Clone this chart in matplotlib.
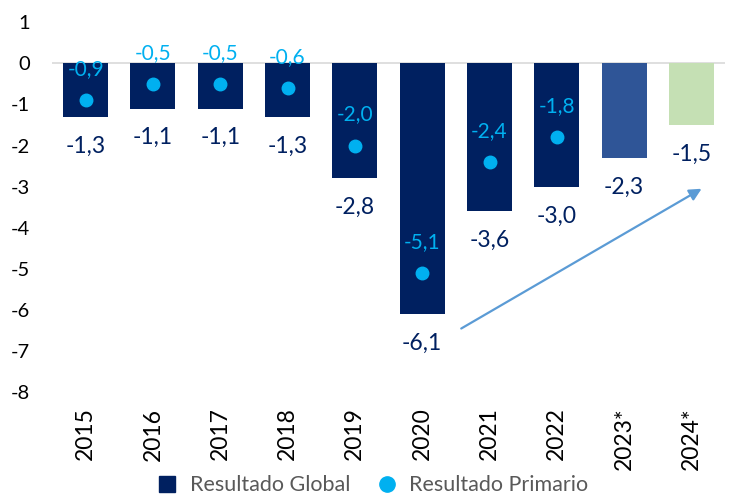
import matplotlib
matplotlib.use('Agg')
import matplotlib.pyplot as plt
from matplotlib.lines import Line2D

plt.rcParams['font.family'] = ['Lato', 'DejaVu Sans']

years = ['2015', '2016', '2017', '2018', '2019', '2020', '2021', '2022', '2023*', '2024*']
global_vals = [-1.3, -1.1, -1.1, -1.3, -2.8, -6.1, -3.6, -3.0, -2.3, -1.5]
primary_vals = [-0.9, -0.5, -0.5, -0.6, -2.0, -5.1, -2.4, -1.8]

navy = '#002060'
cyan = '#00B0F0'
bar_colors = [navy] * 8 + ['#2F5597', '#C5E0B4']

fig = plt.figure(figsize=(7.31, 4.94), dpi=100, facecolor='white')
ax = fig.add_axes([0.071, 0.206, 0.921, 0.749])

x = list(range(len(years)))
ax.bar(x, global_vals, width=0.67, color=bar_colors, zorder=2)
ax.axhline(0, color='#D9D9D9', linewidth=1.2, zorder=1)
ax.plot(x[:len(primary_vals)], primary_vals, 'o', color=cyan, markersize=9, zorder=3)

def fmt(v):
    return f'{v:.1f}'.replace('.', ',')

for xi, v in zip(x, global_vals):
    ax.annotate(fmt(v), (xi, v), xytext=(0, -21), textcoords='offset points',
                ha='center', va='center', fontsize=16.5, color=navy, zorder=4)
for xi, v in zip(x, primary_vals):
    ax.annotate(fmt(v), (xi, v), xytext=(0, 22.5), textcoords='offset points',
                ha='center', va='center', fontsize=15, color=cyan, zorder=4)

# flecha de tendencia
ax.annotate('', xy=(9.15, -3.05), xytext=(5.58, -6.45),
            arrowprops=dict(arrowstyle='-|>', color='#5B9BD5', lw=1.6,
                            mutation_scale=18, shrinkA=0, shrinkB=0))

ax.set_xlim(-0.5, 9.5)
ax.set_ylim(-8, 1)
ax.set_yticks(range(-8, 2))
ax.set_yticklabels([str(t) for t in range(-8, 2)], fontsize=14.5)
ax.set_xticks(x)
ax.set_xticklabels(years, rotation=90, fontsize=16.5)
ax.tick_params(axis='y', length=0, pad=16)
ax.tick_params(axis='x', length=0, pad=11)
for s in ax.spines.values():
    s.set_visible(False)

handles = [
    Line2D([], [], marker='s', linestyle='none', color=navy, markersize=12),
    Line2D([], [], marker='o', linestyle='none', color=cyan, markersize=11),
]
fig.legend(handles, ['Resultado Global', 'Resultado Primario'], loc='center',
           bbox_to_anchor=(0.502, 0.018), ncol=2, frameon=False, fontsize=15.5,
           handletextpad=0.05, columnspacing=0.7, labelcolor='#595959',
           borderpad=0, borderaxespad=0)

fig.savefig('out.png', dpi=100, facecolor='white')
